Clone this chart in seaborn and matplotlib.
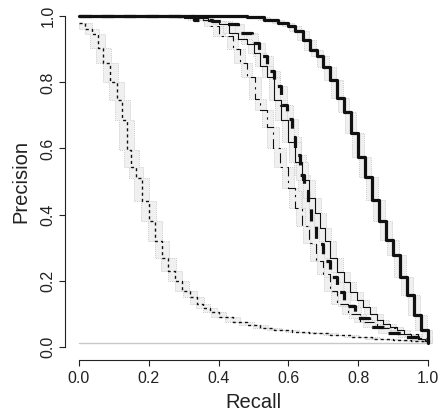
import numpy as np
import matplotlib
matplotlib.use("Agg")
import matplotlib.pyplot as plt
import seaborn as sns

# ---- data ----
recall_a = [0.00, 0.48, 0.53, 0.57, 0.60, 0.62, 0.642, 0.662, 0.682, 0.70, 0.72, 0.74, 0.758,
            0.778, 0.80, 0.82, 0.84, 0.86, 0.88, 0.90, 0.92, 0.94, 0.96, 0.98, 1.00]
precision_a = [1.00, 0.998, 0.99, 0.98, 0.97, 0.955, 0.927, 0.897, 0.88, 0.846, 0.807, 0.752, 0.71,
               0.646, 0.574, 0.514, 0.444, 0.38, 0.323, 0.278, 0.211, 0.157, 0.097, 0.051, 0.012]

recall_b = [0.00, 0.33, 0.37, 0.40, 0.43, 0.455, 0.48, 0.50, 0.52, 0.54, 0.56, 0.58, 0.60, 0.62,
            0.64, 0.66, 0.675, 0.69, 0.705, 0.72, 0.74, 0.76, 0.777, 0.796, 0.815, 0.834, 0.853,
            0.872, 0.89, 0.91, 0.93, 0.95, 0.97, 0.99, 1.00]
precision_b = [1.00, 0.995, 0.985, 0.975, 0.95, 0.93, 0.915, 0.89, 0.85, 0.815, 0.746, 0.686, 0.62,
               0.56, 0.505, 0.45, 0.405, 0.36, 0.32, 0.27, 0.225, 0.195, 0.166, 0.142, 0.12, 0.10,
               0.082, 0.07, 0.06, 0.05, 0.04, 0.033, 0.025, 0.018, 0.01]

recall_c = [0.00, 0.33, 0.38, 0.42, 0.455, 0.495, 0.515, 0.54, 0.56, 0.58, 0.595, 0.61, 0.62,
            0.632, 0.645, 0.655, 0.665, 0.68, 0.70, 0.72, 0.74, 0.76, 0.79, 0.83, 0.875, 0.93,
            0.97, 1.00]
precision_c = [1.00, 0.99, 0.985, 0.975, 0.95, 0.92, 0.88, 0.835, 0.79, 0.73, 0.69, 0.635, 0.58,
               0.52, 0.47, 0.42, 0.365, 0.31, 0.26, 0.21, 0.166, 0.124, 0.088, 0.06, 0.042, 0.03,
               0.02, 0.01]

recall_d = [0.00, 0.30, 0.355, 0.375, 0.40, 0.44, 0.46, 0.48, 0.505, 0.52, 0.54, 0.555, 0.575,
            0.60, 0.62, 0.64, 0.66, 0.68, 0.70, 0.72, 0.74, 0.77, 0.805, 0.855, 0.91, 0.97, 1.00]
precision_d = [1.00, 0.995, 0.99, 0.97, 0.94, 0.90, 0.86, 0.815, 0.75, 0.715, 0.665, 0.60, 0.545,
               0.48, 0.42, 0.365, 0.315, 0.26, 0.22, 0.17, 0.13, 0.10, 0.075, 0.057, 0.04, 0.027,
               0.01]

recall_e = [0.00, 0.017, 0.037, 0.054, 0.07, 0.09, 0.108, 0.124, 0.137, 0.15, 0.163, 0.18, 0.20,
            0.218, 0.238, 0.256, 0.275, 0.295, 0.318, 0.338, 0.355, 0.375, 0.40, 0.44, 0.48, 0.52,
            0.56, 0.61, 0.66, 0.72, 0.78, 0.84, 0.90, 0.95, 1.00]
precision_e = [0.98, 0.96, 0.945, 0.905, 0.86, 0.80, 0.746, 0.686, 0.595, 0.545, 0.51, 0.44, 0.38,
               0.32, 0.27, 0.23, 0.20, 0.17, 0.15, 0.13, 0.118, 0.105, 0.09, 0.075, 0.066, 0.058,
               0.052, 0.046, 0.041, 0.035, 0.03, 0.025, 0.02, 0.016, 0.012]

baseline_recall = [0.0, 1.0]
baseline_precision = [0.01, 0.01]

x_ticks = [0.0, 0.2, 0.4, 0.6, 0.8, 1.0]
y_ticks = [0.0, 0.2, 0.4, 0.6, 0.8, 1.0]
tick_labels = ["0.0", "0.2", "0.4", "0.6", "0.8", "1.0"]

# ---- style ----
sns.set_style("ticks")
plt.rcParams["font.family"] = ["Liberation Sans", "DejaVu Sans"]

fig = plt.figure(figsize=(4.4, 4.16), dpi=100)
ax = fig.add_axes([65 / 440, 1 - 360 / 416, 377 / 440, 357 / 416])


def step_path(r, p):
    xs, ys = [], []
    for i in range(len(r)):
        if i > 0:
            xs.append(r[i])
            ys.append(p[i - 1])
        xs.append(r[i])
        ys.append(p[i])
    return np.array(xs, float), np.array(ys, float)


def band(r, p, dx):
    xs, ys = step_path(r, p)
    ux = np.clip(xs + dx, 0, 1.012)
    lx = np.clip(xs - dx, 0, 1.012)
    px = np.concatenate([ux, lx[::-1]])
    py = np.concatenate([ys, ys[::-1]])
    ax.fill(px, py, facecolor="#f0f0f0", edgecolor="#c4c4c4",
            linestyle=(0, (0.8, 1.2)), linewidth=0.7, zorder=1)


curves = [
    (recall_e, precision_e, 0.021, dict(lw=1.0, linestyle=(0, (2.2, 2.2)))),
    (recall_d, precision_d, 0.017, dict(lw=0.8, linestyle=(0, (9, 4, 2, 4)))),
    (recall_c, precision_c, 0.017, dict(lw=2.3, linestyle=(0, (3.8, 3.2)))),
    (recall_b, precision_b, 0.017, dict(lw=0.8, linestyle="-")),
    (recall_a, precision_a, 0.017, dict(lw=2.3, linestyle="-")),
]

for r, p, dx, _ in curves:
    band(r, p, dx)

sns.lineplot(x=baseline_recall, y=baseline_precision, ax=ax, color="#c8c8c8", lw=1.0,
             estimator=None, sort=False, zorder=2)

for r, p, _, kw in curves:
    sns.lineplot(x=r, y=p, ax=ax, color="#111111", drawstyle="steps-post",
                 estimator=None, sort=False, zorder=3, **kw)

ax.set_xlim(-0.04, 1.04)
ax.set_ylim(-0.04, 1.04)
for s in ["top", "right"]:
    ax.spines[s].set_visible(False)
ax.spines["left"].set_bounds(0, 1)
ax.spines["bottom"].set_bounds(0, 1)
for s in ["left", "bottom"]:
    ax.spines[s].set_linewidth(0.8)
    ax.spines[s].set_color("#222222")

ax.set_xticks(x_ticks)
ax.set_xticklabels(tick_labels)
ax.set_yticks(y_ticks)
ax.set_yticklabels(tick_labels, rotation=90, va="center")
ax.tick_params(axis="both", direction="out", length=4.5, width=0.8, color="#222222",
               labelsize=11.5, labelcolor="#222222")
ax.tick_params(axis="x", pad=3.5)
ax.tick_params(axis="y", pad=2.5)

ax.set_xlabel("Recall", fontsize=14.5, color="#222222", labelpad=5)
ax.set_ylabel("Precision", fontsize=14.5, color="#222222", labelpad=7)

fig.savefig("out.png", dpi=100)
